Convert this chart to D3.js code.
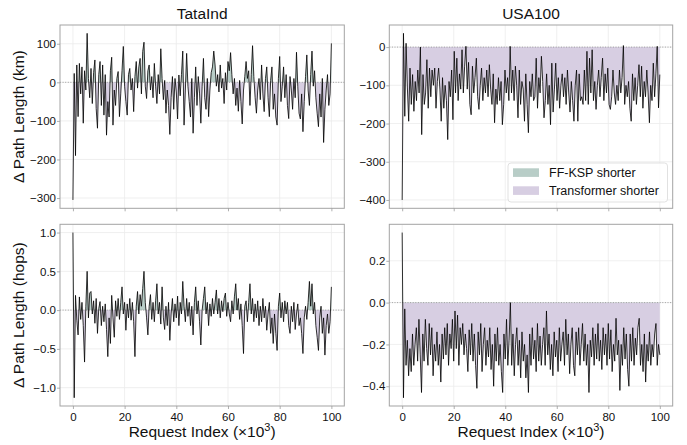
<!DOCTYPE html>
<html><head><meta charset="utf-8">
<script src="https://cdn.jsdelivr.net/npm/d3@7"></script>
<style>body{margin:0;background:#fff} text{font-family:"Liberation Sans",Arial,Helvetica,sans-serif;fill:#111}</style>
</head><body><svg id="c" width="687" height="445"></svg>
<script>
// ---- data (one sample per 0.5k requests) ----
const tataKm = [-305,23,-190,45,-89,49,-30,40,-106,30,-20,127,10,-40,36,-55,25,58,-68,-119,20,54,-60,45,-85,20,-137,-50,-90,30,65,-111,-20,-60,10,28,-89,-30,30,93,-10,-50,-85,20,36,-20,10,-76,15,54,-15,40,62,-30,80,104,-10,-42,30,45,-20,15,-40,49,-10,-55,20,-30,87,10,-45,5,-80,-20,-60,-135,-40,15,-70,10,-25,-95,19,-35,20,81,-111,-20,75,-10,-50,-90,10,-132,-40,40,-60,15,-30,-106,-10,62,-40,-70,10,-89,-20,25,40,81,45,-10,20,-25,45,-15,10,-55,25,-20,54,30,77,20,-30,10,-60,-15,-75,5,-50,-108,-20,15,54,10,30,-60,20,95,15,-40,-80,-20,10,-45,45,-30,-76,10,40,-40,-89,5,40,-70,-30,-90,-111,10,67,-50,-10,40,-40,20,-60,-94,15,-20,-70,10,-40,78,-10,-80,-95,-30,-128,-50,15,71,-20,-60,20,81,-10,30,-40,-80,-115,-30,-90,10,-156,-70,-20,20,-60,-30,101];
const usaKm = [-400,36,-181,10,-107,-194,-55,-150,-72,-168,-90,-140,-60,-120,0,-229,-72,-150,-120,-33,-160,-55,-130,-60,-100,-55,-160,-90,-55,-110,-194,-80,-160,-100,-140,-242,-90,-130,-60,-190,-11,-120,-29,-140,-70,-110,-7,-120,-50,2,-110,-40,-150,-177,-50,-120,-80,-29,-130,-163,-100,-55,-140,-80,-120,-60,-130,-46,-110,-150,-70,-198,-110,-150,-80,-140,-90,-203,-150,-60,-120,-80,-140,2,-120,-60,-140,-50,-100,-185,-60,-150,-90,-110,-194,-70,-150,-224,-90,-130,-70,-140,-130,-29,-160,-80,-120,-24,-90,-185,-140,-70,-150,-100,-203,-42,-170,-110,-42,-140,-80,-160,-100,-70,-130,-80,-150,-60,-120,-170,-90,-140,-194,-100,-60,-194,-70,-140,-130,-150,-60,-140,-11,-150,-29,-120,-7,-140,-90,-163,-100,-60,-130,-80,-29,-140,-70,-120,-55,-150,-163,-130,-60,-120,-150,-100,-140,-60,-120,-80,4,-150,-100,-130,-90,-160,-194,-70,-140,-80,-150,-100,-46,-130,-50,-160,-90,-130,-60,-120,-198,-100,-140,-42,-130,-70,2,-159,-72];
const tataHops = [1.0,-1.13,0.19,-0.13,-0.32,0.17,-0.12,0.1,-0.2,-0.67,0.05,0.5,-0.1,0.22,0.24,-0.05,0.12,-0.17,0.15,-0.3,0.02,0.11,-0.2,0.05,-0.15,0.08,-0.25,-0.6,-0.1,-0.43,0.19,-0.1,-0.35,0.12,-0.08,0.15,-0.12,0.1,0.3,-0.05,0.1,-0.26,0.08,-0.1,0.15,-0.13,0.1,-0.15,-0.6,0.05,0.24,-0.05,0.2,0.05,0.28,0.5,0.1,-0.1,-0.32,0.05,0.2,-0.12,0.1,-0.15,0.12,0.34,-0.05,0.1,-0.18,0.3,-0.1,-0.25,0.05,-0.2,0.1,-0.39,-0.05,0.15,-0.15,0.08,-0.1,0.18,-0.2,0.1,-0.05,0.37,0.05,-0.15,0.15,-0.08,0.1,-0.2,0.05,-0.32,0.1,0.3,-0.05,0.12,-0.15,-0.45,0.0,0.15,0.3,-0.05,0.1,-0.2,0.08,-0.08,0.15,-0.05,0.1,0.26,-0.05,0.15,-0.1,0.12,-0.02,0.15,0.22,-0.08,0.1,-0.05,-0.15,0.12,-0.05,0.18,0.34,0.0,0.15,-0.12,0.08,-0.2,-0.56,0.05,0.12,-0.15,0.1,0.34,-0.05,0.15,-0.15,0.08,-0.1,0.12,-0.2,0.05,-0.15,0.15,-0.1,0.05,-0.26,-0.05,0.1,-0.3,-0.1,-0.43,-0.05,-0.3,-0.52,0.05,0.22,-0.1,0.1,-0.15,0.12,-0.05,0.1,-0.2,-0.3,0.05,-0.15,0.1,-0.25,-0.05,0.08,-0.2,-0.1,-0.3,-0.56,-0.1,0.05,-0.12,0.1,0.37,0.05,0.34,-0.05,0.1,-0.2,-0.35,-0.52,-0.1,0.05,-0.3,-0.1,-0.58,-0.2,-0.05,-0.3,-0.15,0.3];
const usaHops = [0.335,-0.455,-0.03,-0.3,-0.18,-0.35,-0.22,-0.33,-0.15,-0.3,-0.2,-0.12,-0.28,-0.08,-0.25,-0.43,-0.15,-0.28,-0.08,-0.22,-0.3,-0.1,-0.25,-0.12,-0.35,-0.2,-0.28,-0.14,-0.3,-0.2,-0.38,-0.15,-0.27,-0.12,-0.25,-0.1,-0.3,-0.15,-0.22,-0.08,-0.28,-0.04,-0.22,-0.06,-0.3,-0.12,-0.2,-0.1,-0.25,-0.15,-0.22,-0.33,-0.13,-0.25,-0.1,-0.28,-0.15,-0.3,-0.41,-0.14,-0.25,-0.1,-0.33,-0.2,-0.12,-0.3,-0.18,-0.26,-0.12,-0.32,-0.2,-0.4,-0.15,-0.28,-0.12,-0.3,-0.2,-0.33,-0.43,-0.15,-0.27,-0.08,-0.3,-0.18,0.0,-0.3,-0.15,-0.35,-0.2,-0.12,-0.3,-0.18,-0.36,-0.14,-0.28,-0.2,-0.36,-0.25,-0.43,-0.15,-0.3,-0.12,-0.27,-0.18,-0.33,-0.1,-0.28,-0.16,-0.3,-0.2,-0.12,-0.3,-0.04,-0.25,-0.15,-0.32,-0.2,-0.35,-0.14,-0.26,-0.18,-0.33,-0.12,-0.28,-0.2,-0.14,-0.3,-0.08,-0.25,-0.15,-0.34,-0.2,-0.12,-0.3,-0.35,-0.14,-0.25,-0.12,-0.3,-0.2,-0.1,-0.28,-0.15,-0.3,-0.2,-0.43,-0.18,-0.26,-0.12,-0.3,-0.15,-0.27,-0.1,-0.28,-0.18,-0.32,-0.12,-0.25,-0.15,-0.3,-0.1,-0.27,-0.13,-0.33,-0.2,-0.28,-0.075,-0.25,-0.18,-0.42,-0.2,-0.3,-0.12,-0.27,-0.15,-0.32,-0.4,-0.15,-0.28,-0.12,-0.3,-0.17,-0.25,-0.12,-0.075,-0.3,-0.2,-0.33,-0.15,-0.38,-0.2,-0.28,-0.14,-0.3,-0.2,-0.26,-0.15,-0.1,-0.3,-0.2,-0.25];

const xTicks = [0,20,40,60,80,100];
const tataKmTicks = [100,0,-100,-200,-300];
const usaKmTicks = [0,-100,-200,-300,-400];
const tataHopTicks = [1.0,0.5,0.0,-0.5,-1.0];
const usaHopTicks = [0.2,0.0,-0.2,-0.4];
const titles = ["TataInd","USA100"];
const yLabels = ["Δ Path Length (km)","Δ Path Length (hops)"];
const xLabel = "Request Index (×10";
const legendLabels = ["FF-KSP shorter","Transformer shorter"];
const posColor = "#b8cdc7", negColor = "#d7cee2";

// ---- layout ----
const svg = d3.select("#c");
const cols = [[60,344.3],[389.3,672.7]];
const rows = [[25,208.3],[224.3,406]];
const panels = [
  {r:0,c:0,data:tataKm,ticks:tataKmTicks,fmt:d3.format("d")},
  {r:0,c:1,data:usaKm,ticks:usaKmTicks,fmt:d3.format("d")},
  {r:1,c:0,data:tataHops,ticks:tataHopTicks,fmt:d3.format(".1f")},
  {r:1,c:1,data:usaHops,ticks:usaHopTicks,fmt:d3.format(".1f")}
];

panels.forEach((p,pi)=>{
  const [x0,x1]=cols[p.c], [y0,y1]=rows[p.r];
  const n=p.data.length;
  const xs=d3.range(n).map(i=>i*100/(n-1));
  const x=d3.scaleLinear().domain([-5,105]).range([x0,x1]);
  const [mn,mx]=d3.extent(p.data); const pad=(mx-mn)*0.05;
  const y=d3.scaleLinear().domain([mn-pad,mx+pad]).range([y1,y0]);
  const g=svg.append("g");
  // grid
  g.selectAll(".gx").data(xTicks).enter().append("line")
    .attr("x1",d=>x(d)).attr("x2",d=>x(d)).attr("y1",y0).attr("y2",y1)
    .attr("stroke","#ebebeb").attr("stroke-width",0.8);
  g.selectAll(".gy").data(p.ticks).enter().append("line")
    .attr("x1",x0).attr("x2",x1).attr("y1",d=>y(d)).attr("y2",d=>y(d))
    .attr("stroke","#ebebeb").attr("stroke-width",0.8);
  // clips
  const cp="cp"+pi, cn="cn"+pi;
  const defs=svg.append("defs");
  defs.append("clipPath").attr("id",cp).append("rect").attr("x",x0).attr("width",x1-x0).attr("y",y0).attr("height",y(0)-y0);
  defs.append("clipPath").attr("id",cn).append("rect").attr("x",x0).attr("width",x1-x0).attr("y",y(0)).attr("height",y1-y(0));
  const area=d3.area().x((d,i)=>x(xs[i])).y0(y(0)).y1(d=>y(d));
  g.append("path").datum(p.data).attr("d",area).attr("fill",posColor).attr("clip-path",`url(#${cp})`);
  g.append("path").datum(p.data).attr("d",area).attr("fill",negColor).attr("clip-path",`url(#${cn})`);
  // zero line
  g.append("line").attr("x1",x0).attr("x2",x1).attr("y1",y(0)).attr("y2",y(0))
    .attr("stroke","#8a8a8a").attr("stroke-width",0.8).attr("stroke-dasharray","1,1.6");
  // data line
  const line=d3.line().x((d,i)=>x(xs[i])).y(d=>y(d));
  g.append("path").datum(p.data).attr("d",line).attr("fill","none").attr("stroke","#000").attr("stroke-width",0.8).attr("stroke-linejoin","miter");
  // box
  g.append("rect").attr("x",x0).attr("y",y0).attr("width",x1-x0).attr("height",y1-y0)
    .attr("fill","none").attr("stroke","#a3a3a3").attr("stroke-width",1);
  // axes
  const ax=d3.axisBottom(x).tickValues(xTicks).tickSize(3).tickPadding(3.5).tickFormat(p.r===1?d3.format("d"):()=> "");
  const gax=g.append("g").attr("transform",`translate(0,${y1})`).call(ax);
  const ay=d3.axisLeft(y).tickValues(p.ticks).tickSize(3).tickPadding(1).tickFormat(p.fmt);
  const gay=g.append("g").attr("transform",`translate(${x0},0)`).call(ay);
  [gax,gay].forEach(a=>{
    a.select(".domain").remove();
    a.selectAll(".tick line").attr("stroke","#9a9a9a").attr("stroke-width",0.8);
    a.selectAll("text").attr("font-size",11.5).attr("fill","#111").style("font-family",'"Liberation Sans",Arial,sans-serif');
  });
  if(p.r===0){
    svg.append("text").attr("x",(x0+x1)/2).attr("y",19).attr("text-anchor","middle").attr("font-size",15.5).text(titles[p.c]);
  }
  if(p.c===0){
    svg.append("text").attr("transform",`translate(24,${(y0+y1)/2}) rotate(-90)`).attr("text-anchor","middle").attr("font-size",15.5).text(yLabels[p.r]);
  }
  if(p.r===1){
    const t=svg.append("text").attr("x",(x0+x1)/2).attr("y",437).attr("text-anchor","middle").attr("font-size",15.5);
    t.append("tspan").text(xLabel);
    t.append("tspan").attr("font-size",11).attr("dy",-6).text("3");
    t.append("tspan").attr("dy",6).text(")");
  }
  if(p.r===0 && p.c===1){
    const lg=svg.append("g");
    lg.append("rect").attr("x",508).attr("y",163).attr("width",159.5).attr("height",39).attr("rx",3)
      .attr("fill","#fff").attr("fill-opacity",0.8).attr("stroke","#d9d9d9").attr("stroke-width",0.8);
    [posColor,negColor].forEach((c,i)=>{
      lg.append("rect").attr("x",513).attr("y",168.3+i*18).attr("width",26).attr("height",8.6).attr("fill",c);
      lg.append("text").attr("x",549).attr("y",176.8+i*18).attr("font-size",12.5).text(legendLabels[i]);
    });
  }
});
</script></body></html>
